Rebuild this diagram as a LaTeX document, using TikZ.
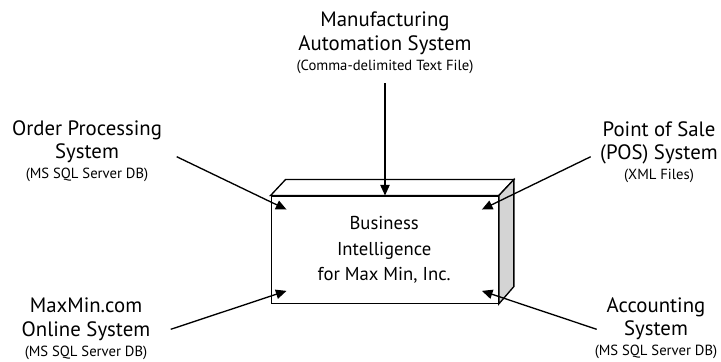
\documentclass[tikz,border=0pt]{standalone}
\usepackage{fontspec}
\setmainfont{PT Sans}
\usetikzlibrary{arrows.meta,calc}
\begin{document}
\begin{tikzpicture}[x=0.75pt,y=-0.75pt,
  lbl/.style={align=center, font=\fontsize{15.6}{17.5}\selectfont, inner sep=0pt},
  core/.style={align=center, font=\fontsize{14}{19}\selectfont, inner sep=0pt},
  feed/.style={line width=1pt, -{Triangle[length=8pt,width=7pt]}}]
\newcommand{\subl}[1]{\\[-2.5pt]{\fontsize{11}{13}\selectfont #1}}
\useasboundingbox (0,0) rectangle (721,361);

% central block: front face, top face and shaded right side
\node[draw, line width=1pt, minimum width=170.25pt, minimum height=80.25pt,
      inner sep=0pt] (bi) at (384.7,249.7) {};
\draw[line width=1pt, fill=white] (bi.north west) -- ++(15,-16) -- ++(228.3,0)
  -- (bi.north east) -- cycle;
\draw[line width=1pt, fill=black!17] (bi.north east) -- ++(15,-16) -- ++(0,107)
  -- (bi.south east) -- cycle;
\node[core] at (384.2,250) {Business\\Intelligence\\for Max Min, Inc.};

% source systems
\node[lbl, anchor=north] (mas) at (385,12) {Manufacturing\\Automation System\subl{(Comma-delimited Text File)}};
\node[lbl, anchor=north] (ops) at (87,120.5) {Order Processing\\System\subl{(MS SQL Server DB)}};
\node[lbl, anchor=north] (pos) at (659,121.5) {Point of Sale\\(POS) System\subl{(XML Files)}};
\node[lbl, anchor=north] (web) at (86,298) {MaxMin.com\\Online System\subl{(MS SQL Server DB)}};
\node[lbl, anchor=north] (acc) at (656,297.5) {Accounting\\System\subl{(MS SQL Server DB)}};

% connector start points beside the labels
\coordinate (masA) at (385,83);
\coordinate (opsA) at (176.7,156.7);
\coordinate (posA) at (590.7,156.7);
\coordinate (webA) at (170.7,329.3);
\coordinate (accA) at (596.7,329.3);

% feeds into the block
\draw[feed] (masA) -- (bi.north -| masA);
\draw[feed] (opsA) -- ($(bi.north west)+(16,14)$);
\draw[feed] (posA) -- ($(bi.north east)+(-17,14)$);
\draw[feed] (webA) -- ($(bi.south west)+(16,-13)$);
\draw[feed] (accA) -- ($(bi.south east)+(-17,-13)$);
\end{tikzpicture}
\end{document}
